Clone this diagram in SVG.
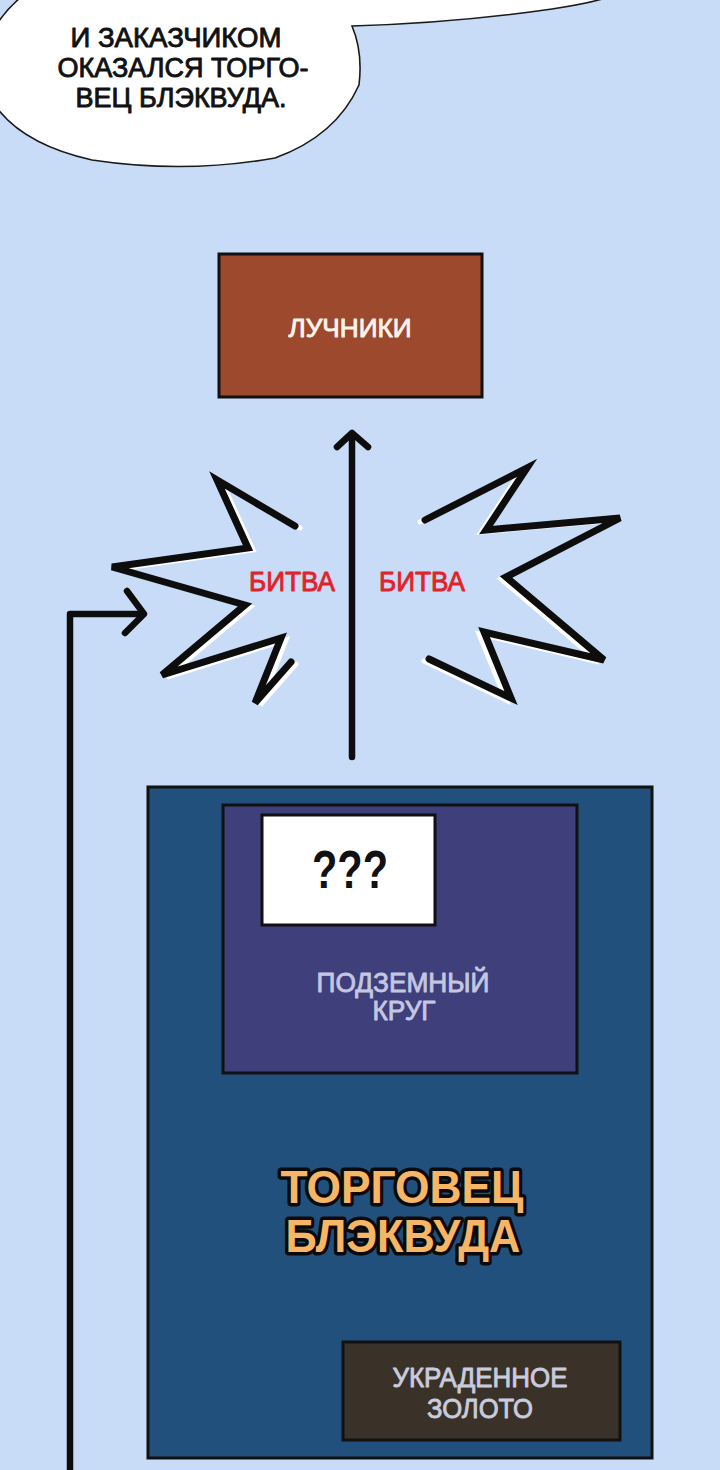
<svg xmlns="http://www.w3.org/2000/svg" width="720" height="1470" viewBox="0 0 720 1470">
<style>
.t{font-family:"Liberation Sans",Arial,sans-serif;text-anchor:middle}
.h{stroke-width:0.9;stroke-linejoin:round}
.box{stroke:#111;stroke-width:3}
.big{font-size:46px;font-weight:bold;fill:#f6b666;stroke:#0a0a0a;stroke-width:7;stroke-linejoin:round;paint-order:stroke}
.conn{fill:none;stroke:#0d0d0d;stroke-width:6.5;stroke-linecap:round;stroke-linejoin:round}
.burst{fill:none;stroke:#0d0d0d;stroke-width:7;stroke-linejoin:miter;stroke-linecap:round}
.burstw{fill:none;stroke:#ffffff;stroke-width:5;stroke-linejoin:miter;stroke-linecap:round}
</style>
<rect x="0" y="0" width="720" height="1470" fill="#c9dcf7"/>
<g id="bubble">
<path d="M 20,-2 Q 6,10 -3,24 L -3,108 Q 25,145 92,160 Q 185,174 275,158 Q 336,136 359,85 Q 363,52 352,26 Q 455,23 552,9 Q 592,3 612,-4 L 612,-10 L 20,-10 Z" fill="#ffffff" stroke="#1a1a1a" stroke-width="1.6"/>
<text class="t h" x="176" y="47" font-size="27" fill="#111" stroke="#111" textLength="211" lengthAdjust="spacingAndGlyphs">И ЗАКАЗЧИКОМ</text>
<text class="t h" x="183" y="77" font-size="27" fill="#111" stroke="#111" textLength="251" lengthAdjust="spacingAndGlyphs">ОКАЗАЛСЯ ТОРГО-</text>
<text class="t h" x="181" y="107" font-size="27" fill="#111" stroke="#111" textLength="211" lengthAdjust="spacingAndGlyphs">ВЕЦ БЛЭКВУДА.</text>
</g>
<g id="archers">
<rect class="box" x="219" y="254" width="263" height="143" fill="#9c492d"/>
<text class="t h" x="350" y="337" font-size="26" fill="#fbf3ea" stroke="#fbf3ea" textLength="123" lengthAdjust="spacingAndGlyphs">ЛУЧНИКИ</text>
</g>
<g id="battle-left">
<polyline class="burstw" transform="translate(5,2)" points="295,526 217,480 248,548 112,567 245,605 162,675 281,638 255,703 291,662"/>
<polyline class="burst" points="295,526 217,480 248,548 112,567 245,605 162,675 281,638 255,703 291,662"/>
<text class="t h" x="292" y="591" font-size="27" fill="#e0232b" stroke="#e0232b" textLength="86" lengthAdjust="spacingAndGlyphs">БИТВА</text>
</g>
<g id="battle-right">
<polyline class="burstw" transform="translate(-5,2)" points="425,520 527,468 486,530 620,518 506,577 604,660 484,632 511,698 429,659"/>
<polyline class="burst" points="425,520 527,468 486,530 620,518 506,577 604,660 484,632 511,698 429,659"/>
<text class="t h" x="422" y="591" font-size="27" fill="#e0232b" stroke="#e0232b" textLength="86" lengthAdjust="spacingAndGlyphs">БИТВА</text>
</g>
<g id="merchant">
<rect class="box" x="148" y="787" width="504" height="671" fill="#22507d"/>
<text class="t big" x="402" y="1203" textLength="243" lengthAdjust="spacingAndGlyphs">ТОРГОВЕЦ</text>
<text class="t big" x="403" y="1252" textLength="235" lengthAdjust="spacingAndGlyphs">БЛЭКВУДА</text>
</g>
<g id="underground">
<rect class="box" x="223" y="805" width="354" height="268" fill="#3f3f7b"/>
<text class="t h" x="403" y="992" font-size="28" fill="#c4c7e2" stroke="#c4c7e2" textLength="173" lengthAdjust="spacingAndGlyphs">ПОДЗЕМНЫЙ</text>
<text class="t h" x="404" y="1020" font-size="28" fill="#c4c7e2" stroke="#c4c7e2" textLength="63" lengthAdjust="spacingAndGlyphs">КРУГ</text>
</g>
<g id="unknown">
<rect class="box" x="262" y="815" width="173" height="110" fill="#ffffff"/>
<text class="t" x="350" y="888" font-size="54" font-weight="bold" fill="#111" textLength="76" lengthAdjust="spacingAndGlyphs">???</text>
</g>
<g id="gold">
<rect class="box" x="343" y="1342" width="277" height="98" fill="#3a3229"/>
<text class="t h" x="480" y="1387" font-size="28" fill="#c8ccdc" stroke="#c8ccdc" textLength="175" lengthAdjust="spacingAndGlyphs">УКРАДЕННОЕ</text>
<text class="t h" x="480" y="1418" font-size="28" fill="#c8ccdc" stroke="#c8ccdc" textLength="106" lengthAdjust="spacingAndGlyphs">ЗОЛОТО</text>
</g>
<g id="connectors">
<path class="conn" d="M 352,757 L 352,434"/>
<path class="conn" d="M 337,447 L 352,433 L 368,447"/>
<path class="conn" d="M 70,1475 L 70,614 L 142,614"/>
<path class="conn" d="M 127,591 L 144,614 L 125,633"/>
</g>
</svg>
